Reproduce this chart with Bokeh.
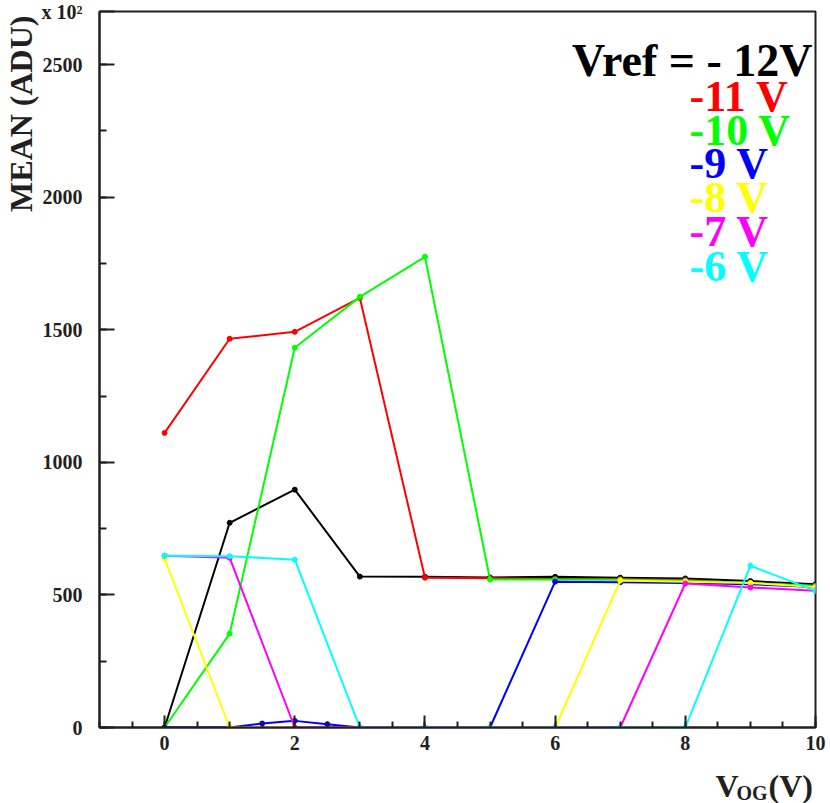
from bokeh.plotting import figure
from bokeh.models import Range1d, FixedTicker, Label, Title
from bokeh.layouts import column
from bokeh.embed import file_html
from bokeh.resources import INLINE

# ---- data (MEAN in units of 10^2 ADU) ----
vog = [0, 1, 2, 3, 4, 5, 6, 7, 8, 9, 10]
mean_m12 = [0, 772, 897, 569, 568, 566, 568, 565, 562, 552, 540]
mean_m11 = [1111, 1466, 1492, 1620, 565, 563, 560, 560, 556, 545, 530]
mean_m10 = [0, 354, 1432, 1624, 1775, 558, 558, 557, 553, 545, 535]
vog_m9 = [0, 1, 1.5, 2, 2.5, 3, 4, 5, 6, 7, 8, 9, 10]
mean_m9 = [0, 0, 15, 25, 12, 0, 0, 0, 550, 548, 545, 540, 530]
mean_m8 = [637, 0, 0, 0, 0, 0, 0, 554, 550, 545, 530]
mean_m7 = [648, 640, 0, 0, 0, 0, 0, 0, 543, 528, 516]
mean_m6 = [648, 646, 633, 0, 0, 0, 0, 0, 0, 610, 515]

x_major = [0, 2, 4, 6, 8, 10]
x_minor = [v / 2 for v in range(-2, 21)]
y_major = [0, 500, 1000, 1500, 2000, 2500, 2700]
y_minor = [0, 250, 500, 750, 1000, 1250, 1500, 1750, 2000, 2250, 2500]
y_label_overrides = {2700: "x 10²"}

legend_labels = ["-11 V", "-10 V", "-9 V", "-8 V", "-7 V", "-6 V"]
legend_colors = ["#ff0000", "#00ff00", "#0000ff", "#ffff00", "#ff00ff", "#00ffff"]

SERIF = "Liberation Serif"
INK = "#231f20"

p = figure(width=830, height=760, output_backend="svg", toolbar_location=None,
           x_range=Range1d(-1, 10), y_range=Range1d(0, 2700),
           min_border_left=97, min_border_right=15, min_border_top=11, min_border_bottom=33)
p.grid.visible = False
p.outline_line_color = INK
p.outline_line_width = 2

p.xaxis.ticker = FixedTicker(ticks=x_major, minor_ticks=x_minor)
p.yaxis.ticker = FixedTicker(ticks=y_major, minor_ticks=y_minor)
p.yaxis.major_label_overrides = y_label_overrides
for ax in (p.xaxis[0], p.yaxis[0]):
    ax.axis_line_color = INK
    ax.axis_line_width = 2
    ax.major_tick_line_color = INK
    ax.minor_tick_line_color = INK
    ax.major_tick_line_width = 2
    ax.minor_tick_line_width = 2
    ax.major_tick_out = 0
    ax.minor_tick_out = 0
    ax.major_label_text_font = SERIF
    ax.major_label_text_font_style = "bold"
    ax.major_label_text_font_size = "20px"
    ax.major_label_text_color = INK
p.xaxis.major_tick_in = 12
p.xaxis.minor_tick_in = 6
p.yaxis.major_tick_in = 15
p.yaxis.minor_tick_in = 7
p.xaxis.major_label_standoff = 8
p.yaxis.major_label_standoff = 17

p.add_layout(Title(text="MEAN (ADU)", align="right", text_font=SERIF, text_font_style="bold",
                   text_font_size="32px", text_color=INK, standoff=0, offset=4), "left")

series = [
    (vog, mean_m12, "#000000"),
    (vog, mean_m11, "#ff0000"),
    (vog, mean_m10, "#00ff00"),
    (vog_m9, mean_m9, "#0000ff"),
    (vog, mean_m8, "#ffff00"),
    (vog, mean_m7, "#ff00ff"),
    (vog, mean_m6, "#00ffff"),
]
for xs, ys, c in series:
    p.line(xs, ys, line_color=c, line_width=2)
    p.scatter(xs, ys, size=5, color=c)

# Frame: left=97, bottom=727 in canvas pixels; screen units are frame relative
FL, FB = 97, 727

def lab(fig, text, sx, sy, size, color=INK, align="left"):
    fig.add_layout(Label(x=sx, y=sy, x_units="screen", y_units="screen",
                         text=text, text_font=SERIF, text_font_style="bold",
                         text_font_size=size, text_color=color, text_align=align,
                         text_baseline="alphabetic"))

lab(p, "Vref = - 12V", 810 - FL, FB - 60, "46px", color="#000000", align="right")
baselines = [96, 130, 163, 197, 231, 266]
for t, c, b in zip(legend_labels, legend_colors, baselines):
    lab(p, t, 687 - FL, FB - b, "44px", color=c)

# strip below the plot holding the x-axis title V_OG(V); its frame is column-aligned with p's
H2 = 43
p2 = figure(width=830, height=H2, output_backend="svg", toolbar_location=None,
            x_axis_type=None, y_axis_type=None,
            x_range=Range1d(0, 718), y_range=Range1d(0, H2),
            min_border_left=97, min_border_right=15, min_border_top=0, min_border_bottom=0)
p2.grid.visible = False
p2.outline_line_color = None
lab(p2, "V", 713 - FL, 803 - 785, "32px")
lab(p2, "OG", 734 - FL, 803 - 792, "20px")
lab(p2, "(V)", 766 - FL, 803 - 785, "32px")

layout = column(p, p2, spacing=0)
open("out.html", "w").write(file_html(layout, INLINE))
